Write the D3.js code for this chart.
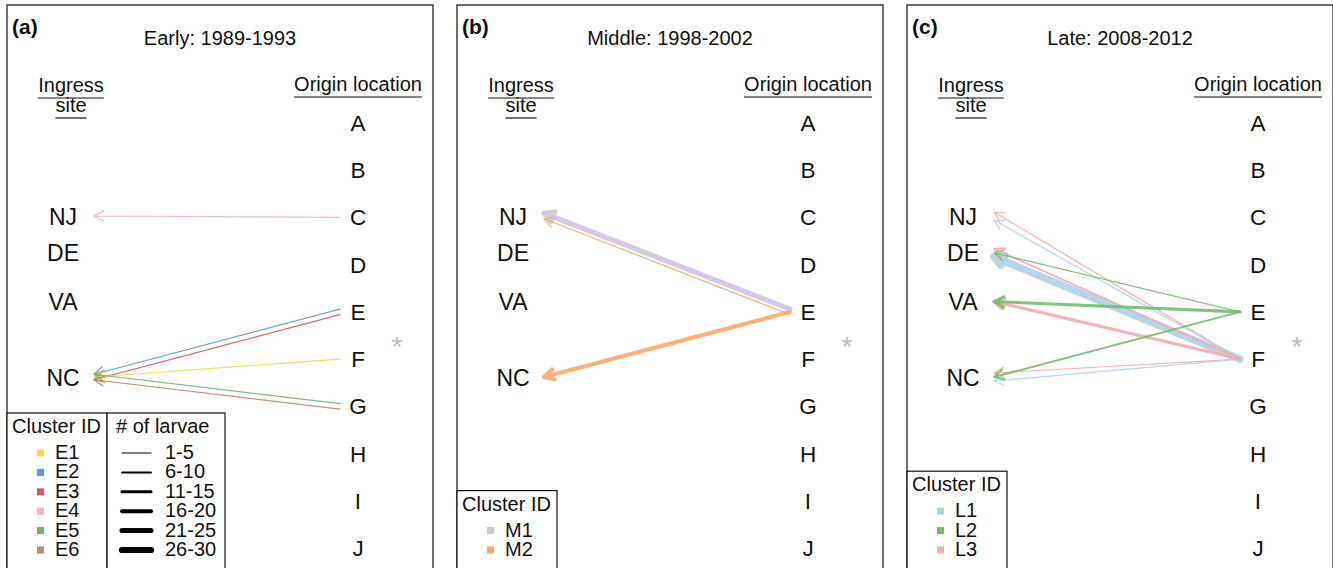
<!DOCTYPE html>
<html>
<head>
<meta charset="utf-8">
<script src="https://cdn.jsdelivr.net/npm/d3@7/dist/d3.min.js"></script>
<style>
  html, body { margin: 0; padding: 0; background: #fff; }
  svg { display: block; font-family: "Liberation Sans", Arial, sans-serif; }
</style>
</head>
<body>
<svg id="chart" width="1333" height="568"></svg>
<script>
// ---------------- DATA ----------------
const originLocations = ["A", "B", "C", "D", "E", "F", "G", "H", "I", "J"];
const ingressSites = ["NJ", "DE", "VA", "NC"];
const ingressLatitude = [39.5, 38.4, 36.95, 34.7];

const panelLetters = ["(a)", "(b)", "(c)"];
const panelTitles = ["Early: 1989-1993", "Middle: 1998-2002", "Late: 2008-2012"];

const earlyClusters = ["E1", "E2", "E3", "E4", "E5", "E6"];
const middleClusters = ["M1", "M2"];
const lateClusters = ["L1", "L2", "L3"];

const earlyColors = ["#F7DA4C", "#5C9AD2", "#E5505A", "#F8B2B6", "#68B866", "#BF866C"];
const middleColors = ["#CFC3E2", "#FCA866"];
const lateColors = ["#AFD2E8", "#72BE70", "#F8A9A9"];

const larvaeClasses = ["1-5", "6-10", "11-15", "16-20", "21-25", "26-30"];

// flows: [cluster, origin, ingress site, larvae class index (0-based)]
const earlyFlows = [
  ["E4", "C", "NJ", 0],
  ["E2", "E", "NC", 0],
  ["E3", "E", "NC", 0],
  ["E1", "F", "NC", 0],
  ["E5", "G", "NC", 0],
  ["E6", "G", "NC", 0]
];
const middleFlows = [
  ["M1", "E", "NJ", 4],
  ["M2", "E", "NJ", 0],
  ["M2", "E", "NC", 3]
];
const lateFlows = [
  ["L1", "F", "DE", 5],
  ["L3", "F", "NJ", 0],
  ["L1", "F", "NJ", 0],
  ["L3", "F", "DE", 1],
  ["L3", "F", "VA", 2],
  ["L3", "F", "NC", 0],
  ["L1", "F", "NC", 0],
  ["L2", "E", "DE", 0],
  ["L2", "E", "VA", 2],
  ["L2", "E", "NC", 1]
];

// ---------------- LAYOUT ----------------
const svg = d3.select("#chart");
const panelX = [7, 457, 907];
const panelW = 426;
const panelTop = 5;

const yOrigin = d3.scalePoint().domain(originLocations).range([123, 548]);
const ySite = d3.scaleLinear()
  .domain([ingressLatitude[0], ingressLatitude[3]])
  .range([216, 377]);
const siteLat = Object.fromEntries(ingressSites.map((s, i) => [s, ingressLatitude[i]]));
const widthScale = d3.scaleOrdinal().domain(d3.range(6)).range([1.2, 2, 3.1, 4.1, 5.2, 7.5]);

const xOriginLabel = 351, xArrowStart = 333, xArrowTip = 87, xSiteLabel = 56;

const panels = [
  { flows: earlyFlows, clusters: earlyClusters, colors: earlyColors, larvaeLegend: true },
  { flows: middleFlows, clusters: middleClusters, colors: middleColors, larvaeLegend: false },
  { flows: lateFlows, clusters: lateClusters, colors: lateColors, larvaeLegend: false }
];

function underlined(g, x, y, text, size, anchor) {
  const t = g.append("text").attr("x", x).attr("y", y)
    .attr("text-anchor", anchor).attr("font-size", size).attr("fill", "#111").text(text);
  const w = t.node().getComputedTextLength();
  const x0 = anchor === "middle" ? x - w / 2 : x;
  g.append("line").attr("x1", x0).attr("x2", x0 + w)
    .attr("y1", y + 6).attr("y2", y + 6).attr("stroke", "#111").attr("stroke-width", 1.2);
}

panels.forEach((p, pi) => {
  const g = svg.append("g").attr("transform", `translate(${panelX[pi]},0)`);
  const color = d3.scaleOrdinal().domain(p.clusters).range(p.colors);

  // border
  g.append("rect").attr("x", 0).attr("y", panelTop).attr("width", panelW).attr("height", 620)
    .attr("fill", "none").attr("stroke", "#333").attr("stroke-width", 1.4);

  // headers
  g.append("text").attr("x", 5).attr("y", 34).attr("font-size", 21).attr("font-weight", "bold")
    .attr("fill", "#111").text(panelLetters[pi]);
  g.append("text").attr("x", panelW / 2).attr("y", 45).attr("text-anchor", "middle")
    .attr("font-size", 20).attr("fill", "#111").text(panelTitles[pi]);

  underlined(g, 64, 92, "Ingress", 20, "middle");
  underlined(g, 64, 112, "site", 20, "middle");
  underlined(g, 351, 91, "Origin location", 20, "middle");

  // origin labels
  g.selectAll("text.origin").data(originLocations).join("text").attr("class", "origin")
    .attr("x", xOriginLabel).attr("y", d => yOrigin(d) + 8)
    .attr("text-anchor", "middle").attr("font-size", 22.5).attr("fill", "#111").text(d => d);

  // ingress labels
  g.selectAll("text.site").data(ingressSites).join("text").attr("class", "site")
    .attr("x", xSiteLabel).attr("y", d => ySite(siteLat[d]) + 8.5)
    .attr("text-anchor", "middle").attr("font-size", 23).attr("fill", "#111").text(d => d);

  // asterisk
  g.append("text").attr("x", 390).attr("y", 356).attr("text-anchor", "middle")
    .attr("font-size", 28).attr("fill", "#bdbdbd").text("*");

  // flows with offsets for parallel flows of same origin->site
  const groups = d3.group(p.flows, d => d[1] + ">" + d[2]);
  const arrows = p.flows.map(f => {
    const grp = groups.get(f[1] + ">" + f[2]);
    let off = 0, offStart = 0;
    if (grp.length > 1) {
      const sorted = grp.slice().sort((u, v) =>
        pi === 2 ? d3.descending(u[0], v[0]) : d3.ascending(u[0], v[0]));
      const k = sorted.indexOf(f);
      off = (k - (grp.length - 1) / 2) * (pi === 2 ? 8 : 5.5);
      offStart = pi === 2 ? 0 : off;
    }
    return { f, off, offStart };
  });

  const headLen = 11, headAng = 28 * Math.PI / 180;
  g.selectAll("path.flow").data(arrows).join("path").attr("class", "flow")
    .attr("d", a => {
      const x0 = xArrowStart, y0 = yOrigin(a.f[1]) + a.offStart;
      const x1 = xArrowTip, y1 = ySite(siteLat[a.f[2]]) + a.off;
      const ang = Math.atan2(y0 - y1, x0 - x1);
      const h1 = [x1 + headLen * Math.cos(ang + headAng), y1 + headLen * Math.sin(ang + headAng)];
      const h2 = [x1 + headLen * Math.cos(ang - headAng), y1 + headLen * Math.sin(ang - headAng)];
      return `M${x0},${y0}L${x1},${y1}M${h1[0]},${h1[1]}L${x1},${y1}L${h2[0]},${h2[1]}`;
    })
    .attr("fill", "none")
    .attr("stroke", a => color(a.f[0]))
    .attr("stroke-width", a => widthScale(a.f[3]))
    .attr("stroke-linecap", "round").attr("stroke-linejoin", "round")
    .attr("opacity", 0.9);

  // cluster legend
  const step = 19.4;
  const lastBase = 556;
  const firstBase = lastBase - (p.clusters.length - 1) * step;
  const legTop = firstBase - 46;
  const lg = g.append("g");
  lg.append("rect").attr("x", 0).attr("y", legTop).attr("width", 100).attr("height", 200)
    .attr("fill", "#fff").attr("stroke", "#111").attr("stroke-width", 1.2);
  lg.append("text").attr("x", 5).attr("y", legTop + 20).attr("font-size", 20).attr("fill", "#111").text("Cluster ID");
  p.clusters.forEach((c, i) => {
    const yb = firstBase + i * step;
    lg.append("rect").attr("x", 30).attr("y", yb - 9.5).attr("width", 7).attr("height", 7)
      .attr("fill", color(c));
    lg.append("text").attr("x", 48).attr("y", yb).attr("font-size", 20).attr("fill", "#111").text(c);
  });

  if (p.larvaeLegend) {
    const lx = 100;
    lg.append("rect").attr("x", lx).attr("y", legTop).attr("width", 118).attr("height", 200)
      .attr("fill", "#fff").attr("stroke", "#111").attr("stroke-width", 1.2);
    lg.append("text").attr("x", lx + 9).attr("y", legTop + 20).attr("font-size", 20).attr("fill", "#111").text("# of larvae");
    larvaeClasses.forEach((lab, i) => {
      const yb = firstBase + i * step;
      lg.append("line").attr("x1", lx + 15).attr("x2", lx + 44).attr("y1", yb - 6).attr("y2", yb - 6)
        .attr("stroke", "#000").attr("stroke-width", [1, 2, 3, 4, 5, 6.2][i]).attr("stroke-linecap", "round");
      lg.append("text").attr("x", lx + 58).attr("y", yb).attr("font-size", 20).attr("fill", "#111").text(lab);
    });
  }
});
</script>
</body>
</html>
